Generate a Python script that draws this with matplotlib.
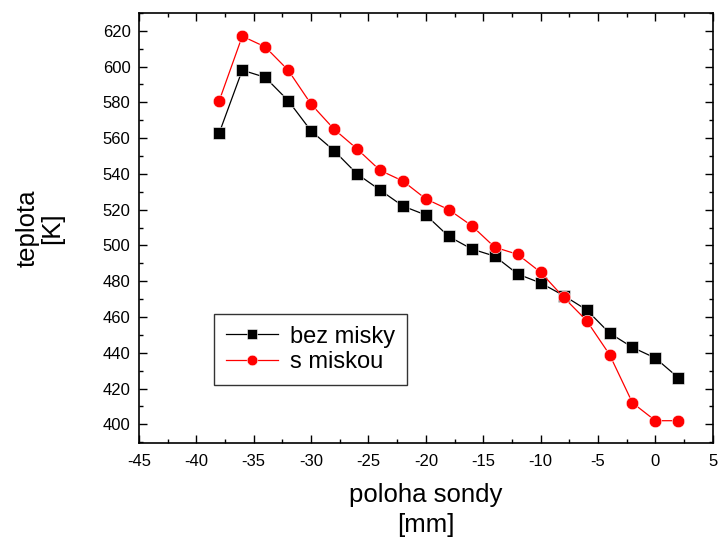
import matplotlib
matplotlib.use("Agg")
import matplotlib.pyplot as plt
from matplotlib.ticker import MultipleLocator

plt.rcParams['font.family'] = ['Liberation Sans', 'DejaVu Sans']
plt.rcParams['axes.unicode_minus'] = False

# poloha sondy [mm]
x = [-38, -36, -34, -32, -30, -28, -26, -24, -22, -20, -18,
     -16, -14, -12, -10, -8, -6, -4, -2, 0, 2]

bez_misky = [563, 598, 594, 581, 564, 553, 540, 531, 522, 517, 505,
             498, 494, 484, 479, 472, 464, 451, 443, 437, 426]
s_miskou = [581, 617, 611, 598, 579, 565, 554, 542, 536, 526, 520,
            511, 499, 495, 485, 471, 458, 439, 412, 402, 402]

fig = plt.figure(figsize=(7.2, 5.39), dpi=100)
ax = fig.add_axes([0.193, 0.178, 0.797, 0.798])

ax.plot(x, bez_misky, color="black", lw=0.9, marker="s", ms=8,
        markeredgecolor="white", markeredgewidth=0.4, label="bez misky")
ax.plot(x, s_miskou, color="red", lw=0.9, marker="o", ms=9,
        markeredgecolor="white", markeredgewidth=0.4, label="s miskou")

ax.set_xlim(-45, 5)
ax.set_ylim(389.5, 630)
ax.xaxis.set_major_locator(MultipleLocator(5))
ax.xaxis.set_minor_locator(MultipleLocator(2.5))
ax.yaxis.set_major_locator(MultipleLocator(20))
ax.yaxis.set_minor_locator(MultipleLocator(10))
ax.tick_params(which="both", direction="in", top=True, right=True,
               labelsize=12, width=1)
ax.tick_params(which="major", length=6)
ax.tick_params(which="minor", length=3)
ax.tick_params(axis="x", pad=8)
ax.tick_params(axis="y", pad=6)
for s in ax.spines.values():
    s.set_linewidth(1.2)

ax.set_xlabel("poloha sondy\n[mm]", fontsize=18.5, linespacing=1.3, labelpad=10)
ax.set_ylabel("teplota\n[K]", fontsize=18.5, linespacing=1.0, labelpad=28)

leg = ax.legend(loc="lower left", bbox_to_anchor=(0.131, 0.135), fontsize=17,
                frameon=True, fancybox=False, edgecolor="black",
                handlelength=2.2, borderpad=0.5, labelspacing=0.15,
                handletextpad=0.5, borderaxespad=0, markerscale=0.85)
leg.get_frame().set_linewidth(1.0)

fig.savefig("out.png", dpi=100)
